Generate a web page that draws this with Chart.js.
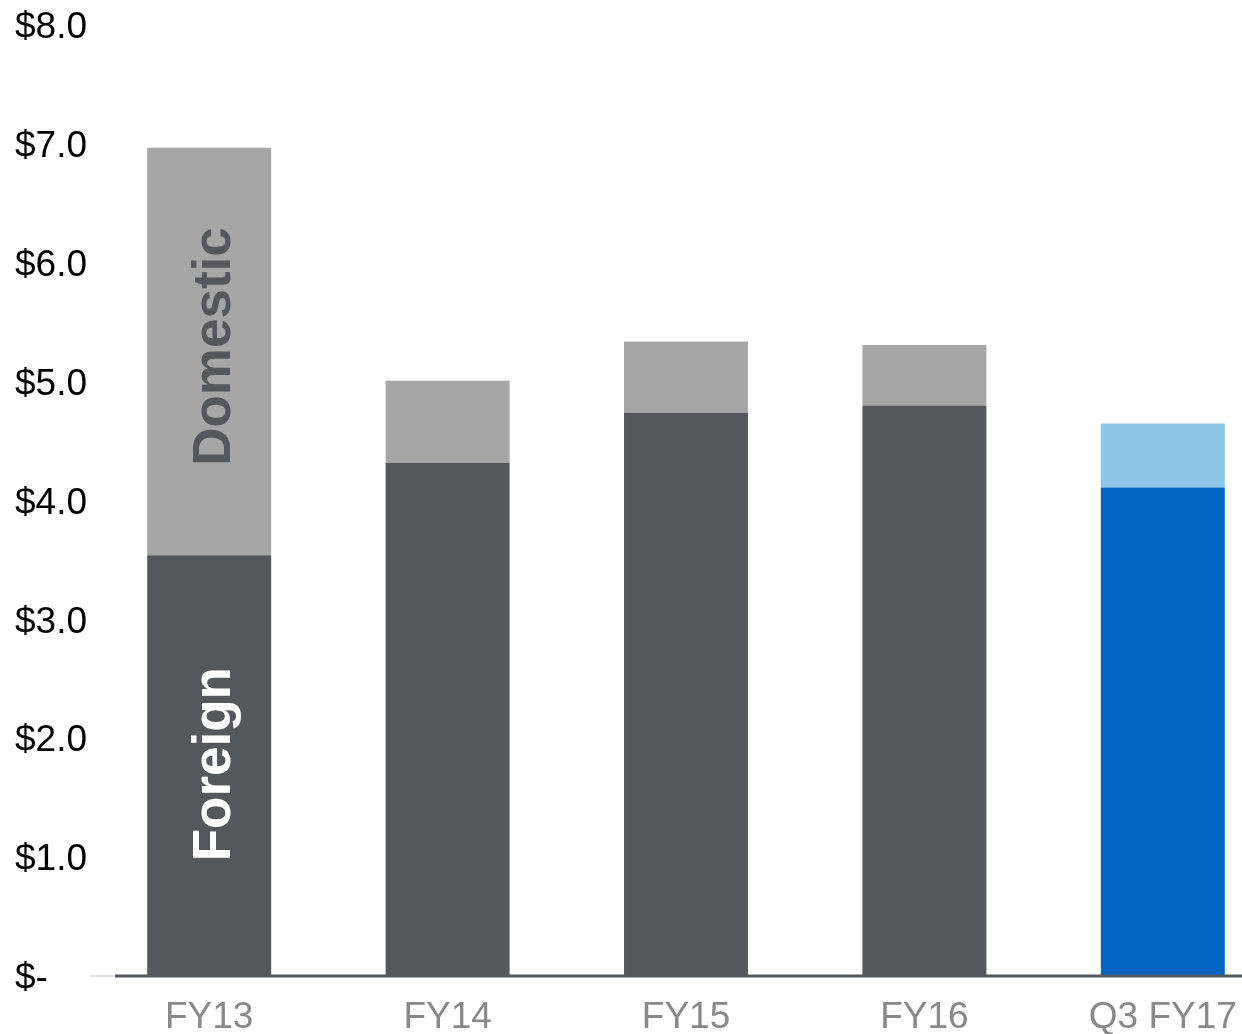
<!DOCTYPE html>
<html>
<head>
<meta charset="utf-8">
<script src="https://cdn.jsdelivr.net/npm/chart.js@4/dist/chart.umd.min.js"></script>
<style>
  html, body { margin: 0; padding: 0; overflow: hidden; background: #fff; }
  #wrap { width: 1282px; height: 1034px; position: relative; }
  canvas { display: block; }
</style>
</head>
<body>
<div id="wrap"><canvas id="c" width="1282" height="1034"></canvas></div>
<script>
const categories = ["FY13", "FY14", "FY15", "FY16", "Q3 FY17"];
const foreign = [3.53, 4.31, 4.73, 4.79, 4.10];
const domestic = [3.43, 0.69, 0.60, 0.51, 0.54];
const yTickLabels = ["$-", "$1.0", "$2.0", "$3.0", "$4.0", "$5.0", "$6.0", "$7.0", "$8.0"];
const segmentLabels = ["Foreign", "Domestic"];

const foreignColors = ["#54575b", "#54575b", "#54575b", "#54575b", "#0066c4"];
const domesticColors = ["#a6a6a6", "#a6a6a6", "#a6a6a6", "#a6a6a6", "#8ec6e8"];

const axisLinePlugin = {
  id: "axisLine",
  afterDatasetsDraw(chart) {
    const ctx = chart.ctx;
    const ca = chart.chartArea;
    const y0 = chart.scales.y.getPixelForValue(0);
    ctx.save();
    ctx.lineWidth = 1.5;
    ctx.strokeStyle = "#d9d9d9";
    ctx.beginPath();
    ctx.moveTo(ca.left, y0 + 1);
    ctx.lineTo(ca.left + 25, y0 + 1);
    ctx.stroke();
    ctx.lineWidth = 3;
    ctx.strokeStyle = "#54575b";
    ctx.beginPath();
    ctx.moveTo(ca.left + 25, y0 + 1);
    ctx.lineTo(ca.right, y0 + 1);
    ctx.stroke();
    ctx.restore();
  }
};

const segmentLabelPlugin = {
  id: "segmentLabels",
  afterDatasetsDraw(chart) {
    const ctx = chart.ctx;
    const colors = ["#ffffff", "#54575b"];
    const dy = [-1, -5];
    ctx.save();
    ctx.font = "bold 53px 'Liberation Sans', Arial, sans-serif";
    ctx.textAlign = "center";
    ctx.textBaseline = "middle";
    [0, 1].forEach(di => {
      const bar = chart.getDatasetMeta(di).data[0];
      const top = Math.min(bar.y, bar.base);
      const bottom = Math.max(bar.y, bar.base);
      const cy = (top + bottom) / 2 + dy[di];
      ctx.save();
      ctx.translate(bar.x + 6, cy);
      ctx.rotate(-Math.PI / 2);
      ctx.fillStyle = colors[di];
      ctx.fillText(segmentLabels[di], 0, 0);
      ctx.restore();
    });
    ctx.restore();
  }
};

new Chart(document.getElementById("c"), {
  type: "bar",
  data: {
    labels: categories,
    datasets: [
      { label: "Foreign", data: foreign, backgroundColor: foreignColors, borderWidth: 0 },
      { label: "Domestic", data: domestic, backgroundColor: domesticColors, borderWidth: 0 }
    ]
  },
  options: {
    responsive: false,
    animation: false,
    events: [],
    layout: { padding: { left: 15, top: 24, right: 0, bottom: 0 } },
    datasets: { bar: { categoryPercentage: 1.0, barPercentage: 0.52 } },
    plugins: { legend: { display: false }, tooltip: { enabled: false } },
    scales: {
      x: {
        stacked: true,
        grid: { display: false, drawTicks: false },
        border: { display: false },
        afterFit(scale) { scale.height = 59; },
        ticks: {
          color: "#898989",
          padding: 24,
          maxRotation: 0,
          font: { family: "'Liberation Sans', Arial, sans-serif", size: 37, lineHeight: 1.0 }
        }
      },
      y: {
        stacked: true,
        min: 0,
        max: 8,
        grid: { display: false, drawTicks: false },
        border: { display: false },
        afterFit(scale) { scale.width = 75; },
        ticks: {
          stepSize: 1,
          crossAlign: "far",
          padding: 0,
          labelOffset: 4,
          color: "#000000",
          font: { family: "'Liberation Sans', Arial, sans-serif", size: 37, lineHeight: 1.0 },
          callback: (v) => yTickLabels[Math.round(v)]
        }
      }
    }
  },
  plugins: [axisLinePlugin, segmentLabelPlugin]
});
</script>
</body>
</html>
